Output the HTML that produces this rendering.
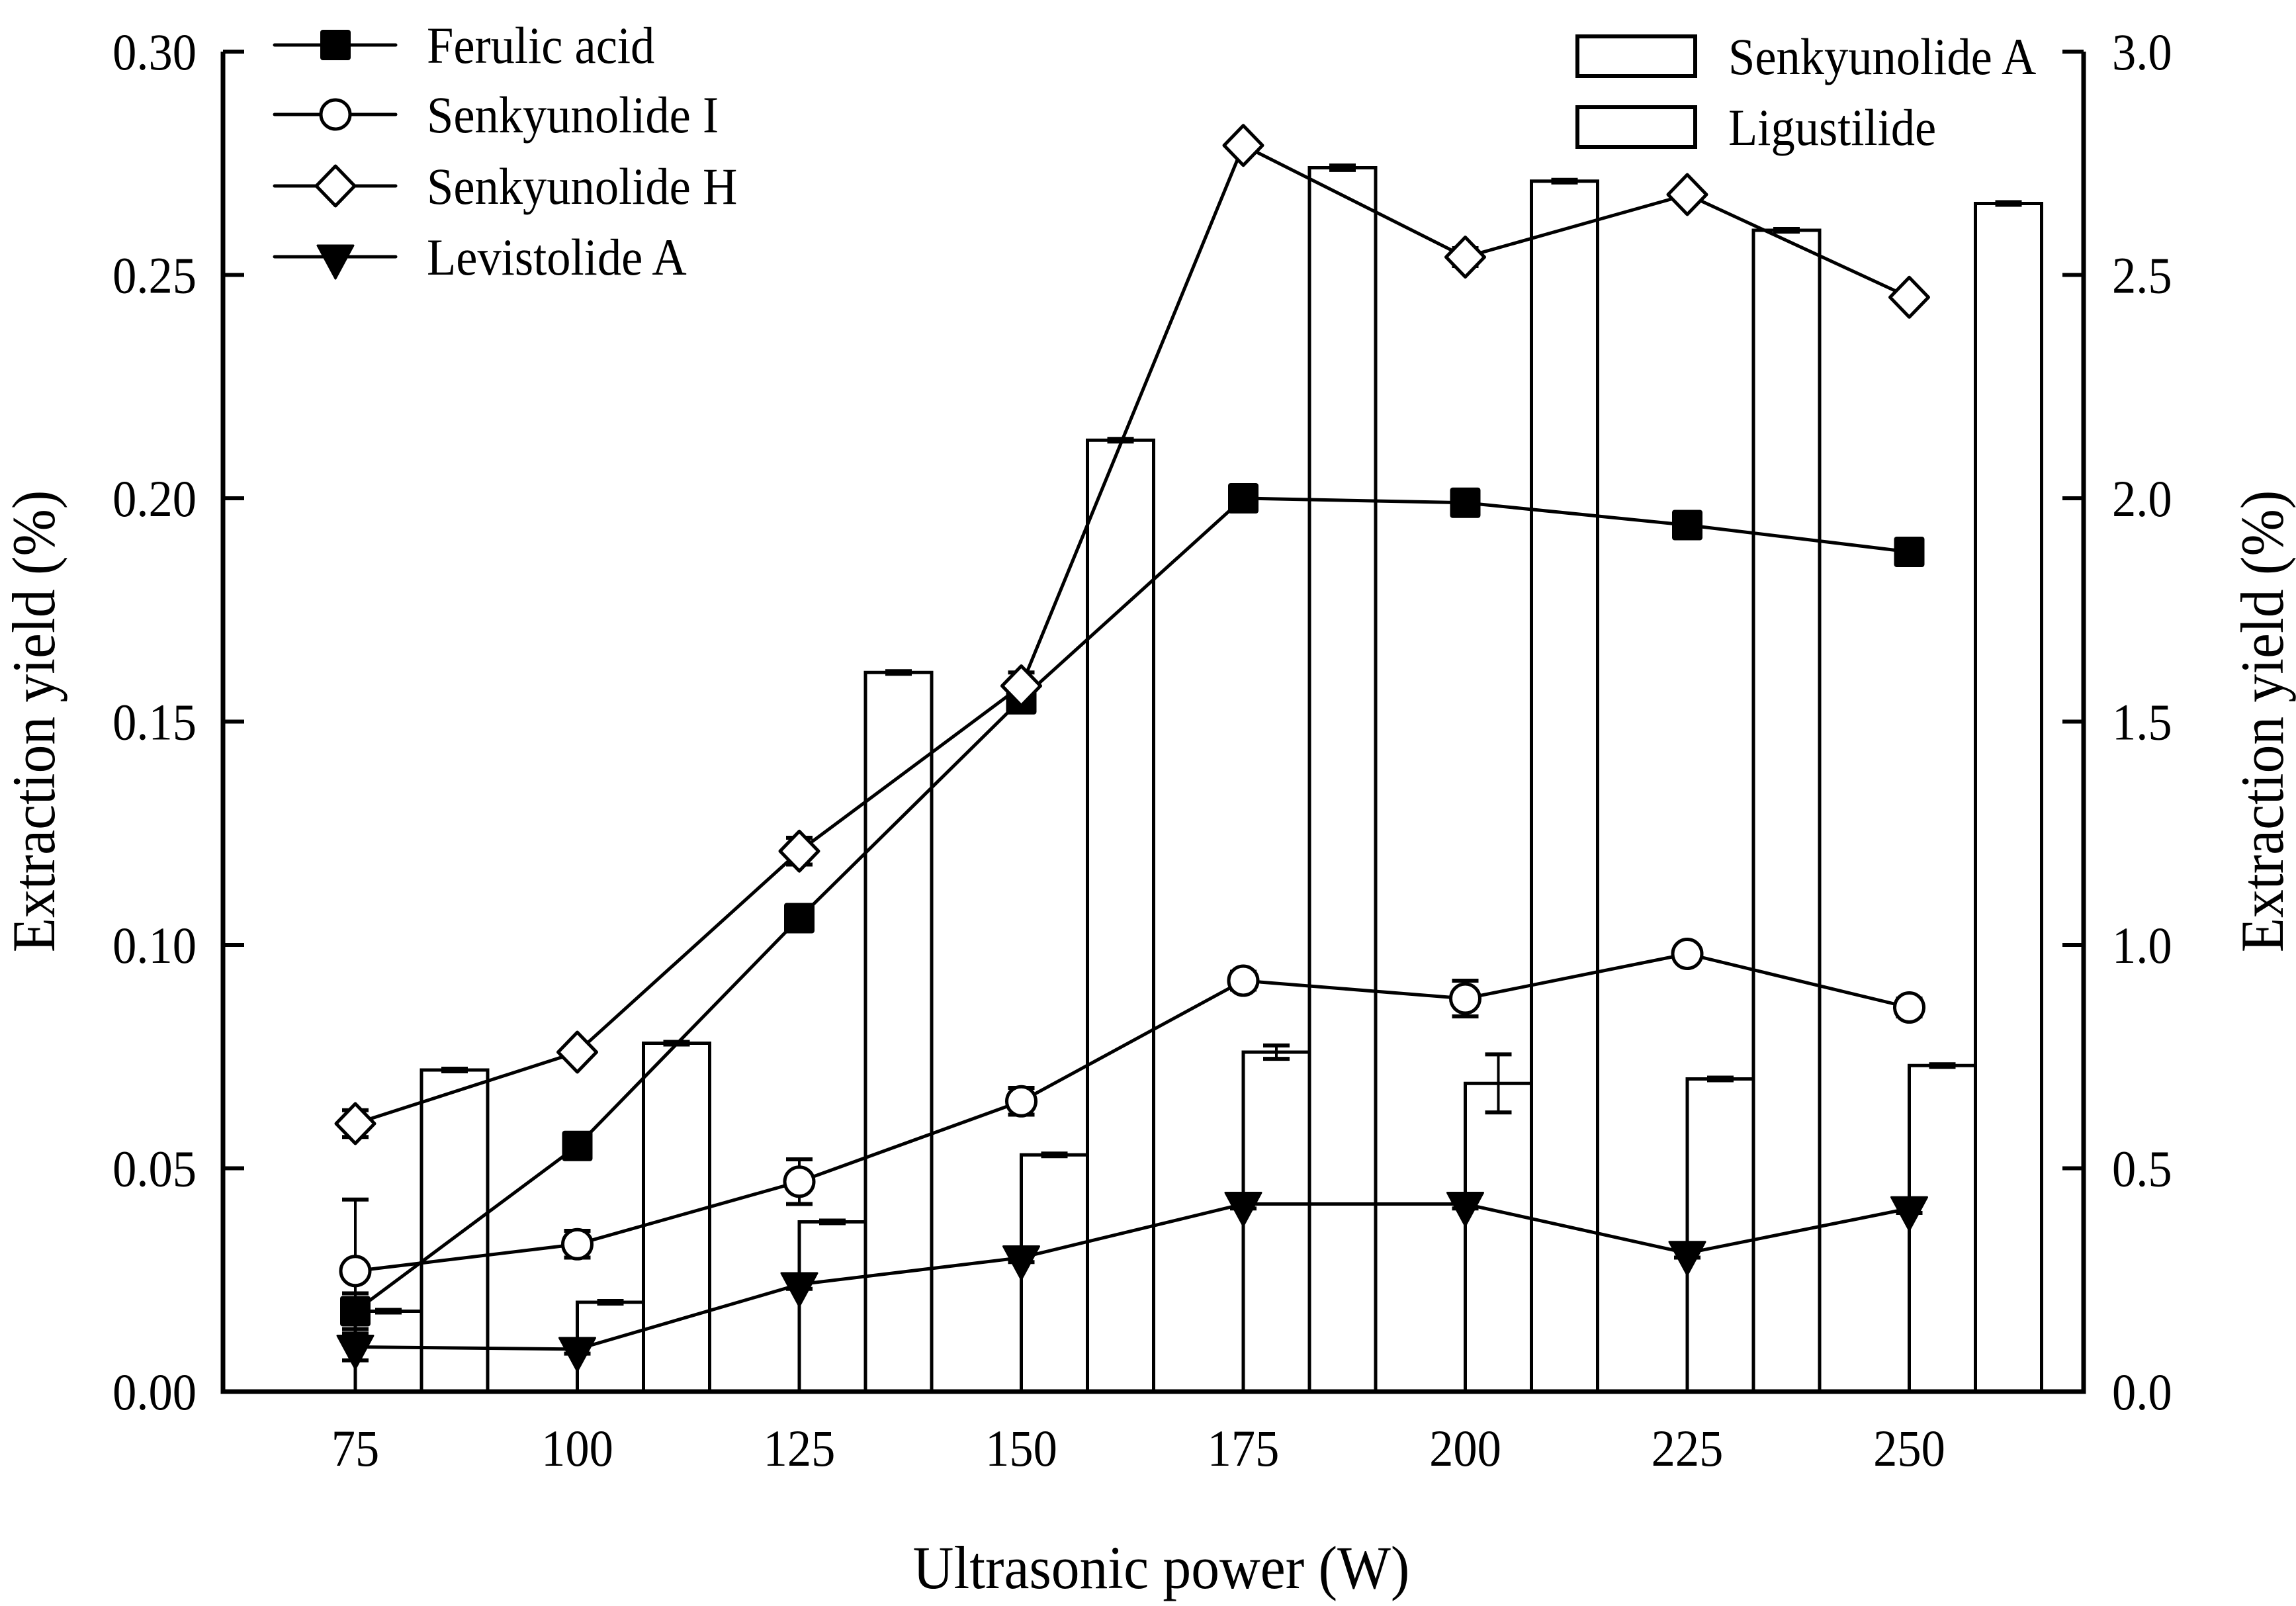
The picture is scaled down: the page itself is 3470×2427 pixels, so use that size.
<!DOCTYPE html>
<html><head><meta charset="utf-8"><style>
html,body{margin:0;padding:0;background:#fff;}
svg{display:block;font-family:"Liberation Serif","Times New Roman",serif;}
</style></head>
<body>
<svg id="chart" xmlns="http://www.w3.org/2000/svg" width="3470" height="2427" viewBox="0 0 3470 2427">
<rect x="0" y="0" width="3470" height="2427" fill="#fff"/>
<g id="bars"></g>
<g id="lines"></g>
<g id="axes"></g>
<g id="legend"></g>
</svg>
<script>
const powers = [75,100,125,150,175,200,225,250];
const xTicks = ["75","100","125","150","175","200","225","250"];
const leftTicks = [0,0.05,0.10,0.15,0.20,0.25,0.30];
const leftTickLabels = ["0.00","0.05","0.10","0.15","0.20","0.25","0.30"];
const rightTicks = [0,0.5,1.0,1.5,2.0,2.5,3.0];
const rightTickLabels = ["0.0","0.5","1.0","1.5","2.0","2.5","3.0"];
// bar series (right axis, %)
const senkA = [0.18,0.20,0.38,0.53,0.76,0.69,0.70,0.73];
const senkAErr = [0.003,0.003,0.003,0.003,0.015,0.065,0.003,0.003];
const ligus = [0.72,0.78,1.61,2.13,2.74,2.71,2.60,2.66];
const ligusErr = [0.003,0.003,0.003,0.003,0.005,0.003,0.003,0.003];
// line series (left axis, %)
const ferulic = [0.018,0.055,0.106,0.155,0.200,0.199,0.194,0.188];
const ferulicErr = [0.004,0.002,0.002,0.002,0.002,0.002,0.001,0.001];
const senkI = [0.027,0.033,0.047,0.065,0.092,0.088,0.098,0.086];
const senkIErr = [0.016,0.003,0.005,0.003,0.002,0.004,0.001,0.002];
const senkH = [0.060,0.076,0.121,0.158,0.279,0.254,0.268,0.245];
const senkHErr = [0.003,0.001,0.003,0.003,0.001,0.002,0.001,0.001];
const levA = [0.010,0.0095,0.024,0.030,0.042,0.042,0.031,0.041];
const levAErr = [0.003,0.001,0.001,0.001,0.001,0.001,0.001,0.001];

const NS="http://www.w3.org/2000/svg";
const X0=337,X1=3149,Y0=2103,Y1=78;
function xs(p){return 537+(p-75)/25*335.5;}
function yl(v){return Y0-v/0.30*(Y0-Y1);}
function yr(v){return Y0-v/3.0*(Y0-Y1);}
function mk(tag,attrs,parent){const e=document.createElementNS(NS,tag);for(const k in attrs)e.setAttribute(k,attrs[k]);parent.appendChild(e);return e;}
function txt(s,x,y,anchor,size,parent,rot){
  const t=mk('text',{transform:`translate(${x},${y})${rot?' rotate('+rot+')':''} scale(0.93,1)`,'text-anchor':anchor,'font-size':size,fill:'#000'},parent);
  t.textContent=s;return t;}
const bars=document.getElementById('bars'),lines=document.getElementById('lines'),axes=document.getElementById('axes'),legend=document.getElementById('legend');
const BW=100;
function errBar(cx,ylow,yhigh,cap,parent,sw){
  mk('line',{x1:cx,y1:ylow,x2:cx,y2:yhigh,stroke:'#000','stroke-width':sw},parent);
  mk('line',{x1:cx-cap,y1:ylow,x2:cx+cap,y2:ylow,stroke:'#000','stroke-width':sw+2},parent);
  mk('line',{x1:cx-cap,y1:yhigh,x2:cx+cap,y2:yhigh,stroke:'#000','stroke-width':sw+2},parent);
}
powers.forEach((p,i)=>{
  const x=xs(p);
  const r1=mk('rect',{x:x,y:yr(senkA[i]),width:BW,height:Y0-yr(senkA[i]),fill:'#fff',stroke:'#000','stroke-width':5},bars);
  
  
  errBar(x+BW/2,yr(senkA[i]-senkAErr[i]),yr(senkA[i]+senkAErr[i]),20,bars,4);
  const r2=mk('rect',{x:x+BW,y:yr(ligus[i]),width:BW,height:Y0-yr(ligus[i]),fill:'#fff',stroke:'#000','stroke-width':5},bars);
  
  
  errBar(x+BW*1.5,yr(ligus[i]-ligusErr[i]),yr(ligus[i]+ligusErr[i]),20,bars,4);
});
function marker(type,cx,cy,parent){
  if(type==='square')return mk('rect',{x:cx-23,y:cy-23,width:46,height:46,rx:4,fill:'#000'},parent);
  if(type==='circle')return mk('circle',{cx:cx,cy:cy,r:22,fill:'#fff',stroke:'#000','stroke-width':5},parent);
  if(type==='diamond')return mk('polygon',{points:`${cx},${cy-30} ${cx+29},${cy} ${cx},${cy+30} ${cx-29},${cy}`,fill:'#fff',stroke:'#000','stroke-width':5,'stroke-linejoin':'round'},parent);
  return mk('polygon',{points:`${cx-27},${cy-17} ${cx+27},${cy-17} ${cx},${cy+33}`,fill:'#000',stroke:'#000','stroke-width':3,'stroke-linejoin':'round'},parent);
}
const series=[[ferulic,ferulicErr,'square','ferulic-acid'],[senkI,senkIErr,'circle','senkyunolide-i'],[senkH,senkHErr,'diamond','senkyunolide-h'],[levA,levAErr,'triangle','levistolide-a']];
series.forEach(([vals,errs,type,name])=>{
  const pl=mk('polyline',{points:vals.map((v,i)=>xs(powers[i])+','+yl(v)).join(' '),fill:'none',stroke:'#000','stroke-width':5},lines);
  
  
  vals.forEach((v,i)=>{
    errBar(xs(powers[i]),yl(v-errs[i]),yl(v+errs[i]),20,lines,4);
    const m=marker(type,xs(powers[i]),yl(v),lines);
    
    
  });
});
// axes
const ax=mk('path',{d:`M${X0},${Y1} V${Y0} H${X1} V${Y1}`,fill:'none',stroke:'#000','stroke-width':7},axes);


leftTicks.forEach((v,i)=>{
  mk('line',{x1:X0,y1:yl(v),x2:X0+32,y2:yl(v),stroke:'#000','stroke-width':6},axes);
  const t=txt(leftTickLabels[i],297,yl(v)+27,'end',78,axes);
  
  
});
rightTicks.forEach((v,i)=>{
  mk('line',{x1:X1,y1:yr(v),x2:X1-32,y2:yr(v),stroke:'#000','stroke-width':6},axes);
  const t=txt(rightTickLabels[i],3192,yr(v)+27,'start',78,axes);
  
  
});
powers.forEach((p,i)=>{
  const t=txt(xTicks[i],xs(p),2215,'middle',78,axes);
  
  
});
let t=txt('Extraction yield (%)',82,1090,'middle',92,axes,-90);


t=txt('Extraction yield (%)',3450,1090,'middle',92,axes,-90);


t=txt('Ultrasonic power (W)',1755,2400,'middle',92,axes);


// legends
const legNames=['Ferulic acid','Senkyunolide I','Senkyunolide H','Levistolide A'];
const legTypes=['square','circle','diamond','triangle'];
const legY=[68,173,281,388];
legNames.forEach((n,i)=>{
  const g=mk('g',{},legend);
  
  
  mk('line',{x1:415,y1:legY[i],x2:598,y2:legY[i],stroke:'#000','stroke-width':5,'stroke-linecap':'round'},g);
  marker(legTypes[i],507,legY[i],g);
  txt(n,645,legY[i]+27,'start',78,g);
});
const barLeg=['Senkyunolide A','Ligustilide'];
const barLegY=[55,162];
barLeg.forEach((n,i)=>{
  const g=mk('g',{},legend);
  
  
  mk('rect',{x:2384,y:barLegY[i],width:178,height:60,fill:'#fff',stroke:'#000','stroke-width':6},g);
  txt(n,2612,barLegY[i]+57,'start',78,g);
});
</script>
</body></html>
